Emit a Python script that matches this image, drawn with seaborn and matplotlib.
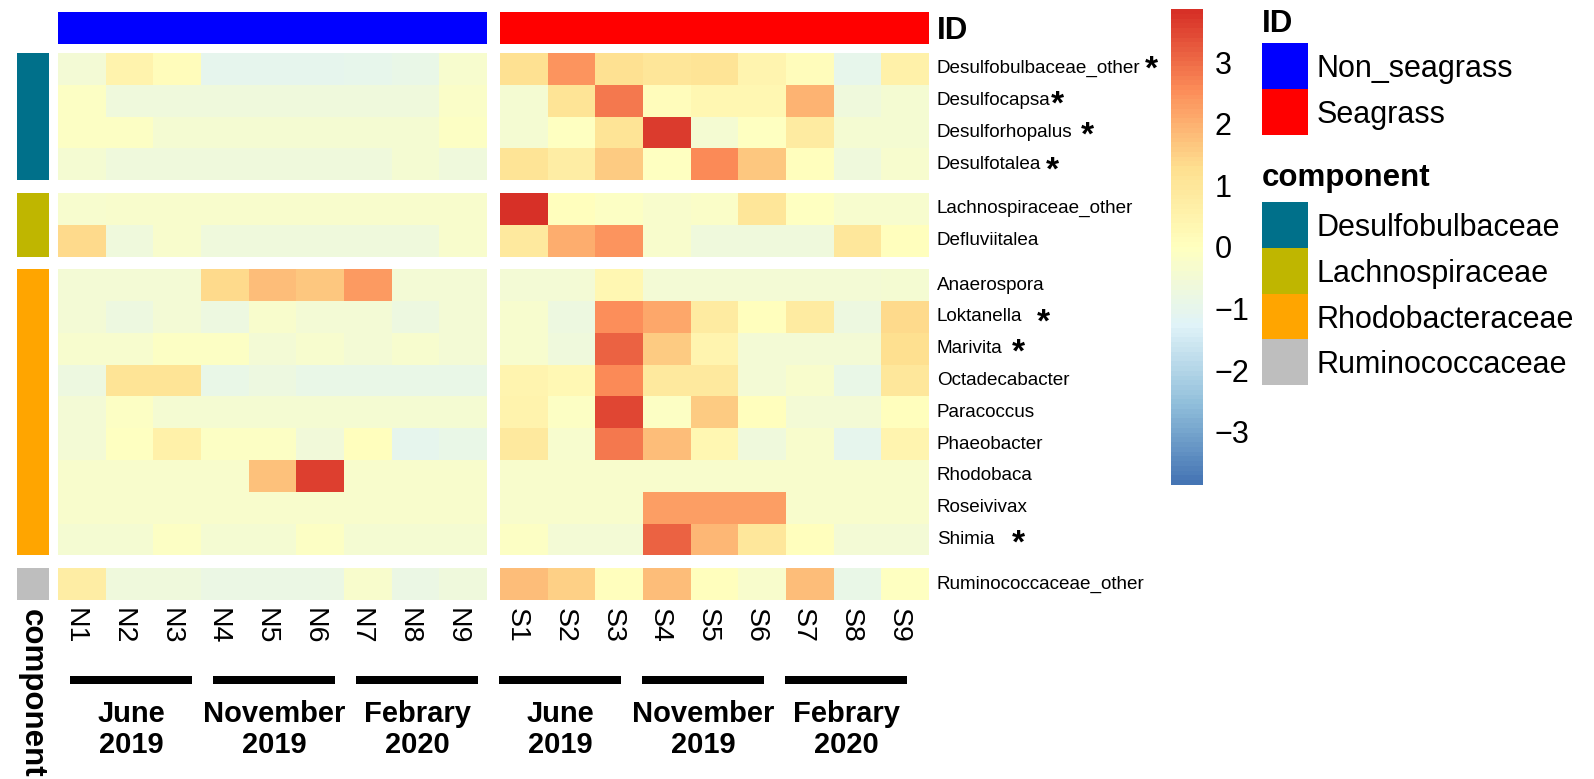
import numpy as np
import pandas as pd
import matplotlib
matplotlib.use("Agg")
import matplotlib.pyplot as plt
from matplotlib.colors import ListedColormap, LinearSegmentedColormap
from matplotlib.patches import Rectangle
import seaborn as sns

# ---------------------------------------------------------------- data
taxa = [
    "Desulfobulbaceae_other", "Desulfocapsa", "Desulforhopalus", "Desulfotalea",
    "Lachnospiraceae_other", "Defluviitalea",
    "Anaerospora", "Loktanella", "Marivita", "Octadecabacter", "Paracoccus",
    "Phaeobacter", "Rhodobaca", "Roseivivax", "Shimia",
    "Ruminococcaceae_other",
]
components = (["Desulfobulbaceae"] * 4 + ["Lachnospiraceae"] * 2
              + ["Rhodobacteraceae"] * 9 + ["Ruminococcaceae"])
significant = ["Desulfobulbaceae_other", "Desulfocapsa", "Desulforhopalus",
               "Desulfotalea", "Loktanella", "Marivita", "Shimia"]

nonseagrass_samples = ["N1", "N2", "N3", "N4", "N5", "N6", "N7", "N8", "N9"]
seagrass_samples = ["S1", "S2", "S3", "S4", "S5", "S6", "S7", "S8", "S9"]
id_groups = ["Non_seagrass", "Seagrass"]
component_levels = ["Desulfobulbaceae", "Lachnospiraceae", "Rhodobacteraceae", "Ruminococcaceae"]
period_months = ["June", "November", "Febrary"]
period_years = ["2019", "2019", "2020"]

# row-scaled abundance (z-scores), one list per taxon
nonseagrass = [
    [-0.50, 0.50, 0.10, -1.05, -1.05, -1.05, -1.00, -0.85, -0.35],
    [-0.10, -0.65, -0.65, -0.65, -0.65, -0.65, -0.65, -0.65, -0.20],
    [-0.10, -0.10, -0.45, -0.45, -0.45, -0.45, -0.45, -0.45, -0.10],
    [-0.45, -0.65, -0.65, -0.65, -0.65, -0.65, -0.65, -0.45, -0.65],
    [-0.35, -0.30, -0.30, -0.30, -0.30, -0.30, -0.30, -0.30, -0.30],
    [1.35, -0.65, -0.30, -0.65, -0.65, -0.65, -0.65, -0.65, -0.30],
    [-0.50, -0.50, -0.50, 1.35, 1.85, 1.65, 2.35, -0.50, -0.50],
    [-0.50, -0.70, -0.50, -0.70, -0.30, -0.50, -0.50, -0.70, -0.50],
    [-0.35, -0.35, -0.15, -0.15, -0.50, -0.35, -0.50, -0.35, -0.50],
    [-0.70, 1.15, 1.15, -0.90, -0.75, -0.85, -0.90, -0.85, -0.85],
    [-0.50, -0.10, -0.40, -0.40, -0.40, -0.40, -0.40, -0.40, -0.40],
    [-0.50, -0.05, 0.60, -0.15, -0.15, -0.55, 0.05, -1.05, -0.85],
    [-0.30, -0.30, -0.30, -0.30, 1.75, 3.60, -0.30, -0.30, -0.30],
    [-0.30, -0.30, -0.30, -0.30, -0.30, -0.30, -0.30, -0.30, -0.30],
    [-0.45, -0.45, -0.15, -0.45, -0.45, -0.15, -0.45, -0.45, -0.45],
    [0.75, -0.65, -0.65, -0.80, -0.80, -0.80, -0.30, -0.80, -0.65],
]
seagrass = [
    [1.20, 2.45, 1.20, 1.05, 1.10, 0.45, 0.10, -1.00, 0.60],
    [-0.45, 1.15, 2.85, 0.10, 0.35, 0.35, 2.00, -0.65, -0.45],
    [-0.45, -0.05, 1.15, 3.65, -0.45, -0.05, 0.80, -0.45, -0.45],
    [1.15, 0.70, 1.60, -0.05, 2.60, 1.65, 0.05, -0.65, -0.35],
    [3.80, 0.00, -0.15, -0.30, -0.20, 1.05, -0.05, -0.35, -0.35],
    [0.85, 2.05, 2.40, -0.30, -0.65, -0.65, -0.65, 1.00, 0.00],
    [-0.50, -0.50, 0.35, -0.50, -0.50, -0.50, -0.50, -0.50, -0.40],
    [-0.35, -0.70, 2.50, 2.10, 0.80, 0.05, 0.80, -0.70, 1.35],
    [-0.35, -0.65, 3.10, 1.60, 0.45, -0.50, -0.50, -0.50, 1.25],
    [0.45, 0.25, 2.60, 0.85, 0.85, -0.50, -0.25, -0.85, 1.00],
    [0.50, -0.10, 3.55, -0.10, 1.60, 0.05, -0.50, -0.50, 0.05],
    [0.85, -0.35, 2.85, 1.85, 0.35, -0.65, -0.25, -1.05, 0.45],
    [-0.30, -0.30, -0.30, -0.30, -0.30, -0.30, -0.30, -0.30, -0.30],
    [-0.30, -0.30, -0.30, 2.30, 2.30, 2.30, -0.30, -0.30, -0.30],
    [-0.10, -0.50, -0.50, 3.10, 1.90, 1.00, 0.05, -0.50, -0.50],
    [1.80, 1.50, 0.00, 1.80, 0.00, -0.30, 1.80, -0.85, -0.05],
]

# ---------------------------------------------------------------- styling
W, H = 1594, 779
sns.set_theme(style="white")
plt.rcParams["font.family"] = ["Liberation Sans", "DejaVu Sans"]
plt.rcParams["axes.unicode_minus"] = True
for key in ("text.color", "axes.labelcolor", "xtick.color", "ytick.color"):
    plt.rcParams[key] = "black"

id_colors = ["#0000FF", "#FF0000"]
component_colors = ["#00708A", "#BFB600", "#FFA500", "#BEBEBE"]
ramp = ["#4575B4", "#91BFDB", "#E0F3F8", "#FFFFBF", "#FEE090", "#FC8D59", "#D73027"]
cmap = ListedColormap(LinearSegmentedColormap.from_list("ramp", ramp)(np.linspace(0, 1, 100)))
VMIN, VMAX = -3.86, 3.86

# layout (pixels, origin top-left)
HM_X = [58.0, 500.0]          # left edge of each sample block
CELL_W = 47.67
HM_Y0 = 53.0
CELL_H = 31.8
ROW_GAP = 12.7
ANNO_X = (17.0, 49.0)
ID_Y = (12.0, 44.0)
LABEL_X = 937.0

# star placement next to significant taxa: (gap px, raise px)
star_offsets = {
    "Desulfobulbaceae_other": (4, 6), "Desulfocapsa": (0, 2.5),
    "Desulforhopalus": (8, 3.5), "Desulfotalea": (4, 0),
    "Loktanella": (14, 1), "Marivita": (9, 2), "Shimia": (17, 2),
}
STAR_SIZE = 24
STAR_DROP = 15.3

fig = plt.figure(figsize=(W / 100, H / 100), dpi=100)


def px_axes(x0, y0, x1, y1, **kw):
    return fig.add_axes([x0 / W, 1 - y1 / H, (x1 - x0) / W, (y1 - y0) / H], **kw)


ns_df = pd.DataFrame(nonseagrass, index=taxa, columns=nonseagrass_samples)
sg_df = pd.DataFrame(seagrass, index=taxa, columns=seagrass_samples)
blocks = [ns_df, sg_df]

# row groups follow the component annotation
groups = []
start = 0
for i in range(1, len(components) + 1):
    if i == len(components) or components[i] != components[start]:
        groups.append((start, i))
        start = i

row_centers = []
y = HM_Y0
mesh = None
for (r0, r1) in groups:
    y1 = y + (r1 - r0) * CELL_H
    for b, df in enumerate(blocks):
        ax = px_axes(HM_X[b], y, HM_X[b] + df.shape[1] * CELL_W, y1)
        sns.heatmap(df.iloc[r0:r1], ax=ax, cmap=cmap, vmin=VMIN, vmax=VMAX,
                    cbar=False, xticklabels=False, yticklabels=False)
        ax.set_xlabel("")
        ax.set_ylabel("")
        mesh = ax.collections[0]
    # component annotation strip
    cax = px_axes(ANNO_X[0], y, ANNO_X[1], y1)
    codes = pd.DataFrame({"component": [component_levels.index(c) for c in components[r0:r1]]})
    sns.heatmap(codes, ax=cax, cmap=ListedColormap(component_colors), vmin=-0.5, vmax=3.5,
                cbar=False, xticklabels=False, yticklabels=False)
    for r in range(r0, r1):
        row_centers.append(y + (r - r0 + 0.5) * CELL_H)
    y = y1 + ROW_GAP
heat_bottom = y - ROW_GAP

# ID annotation strip
for b, df in enumerate(blocks):
    ax = px_axes(HM_X[b], ID_Y[0], HM_X[b] + df.shape[1] * CELL_W, ID_Y[1])
    codes = pd.DataFrame([[b] * df.shape[1]], columns=df.columns)
    sns.heatmap(codes, ax=ax, cmap=ListedColormap(id_colors), vmin=-0.5, vmax=1.5,
                cbar=False, xticklabels=False, yticklabels=False)

# colour key
kax = px_axes(1171, 9, 1203, 485)
cb = fig.colorbar(mesh, cax=kax)
cb.outline.set_visible(False)
cb.set_ticks([-3, -2, -1, 0, 1, 2, 3])
cb.set_ticklabels(["\u22123", "\u22122", "\u22121", "0", "1", "2", "3"])
kax.tick_params(length=0, labelsize=22, pad=8.5, labelcolor="black")

# overlay in pixel coordinates for labels and legends
ov = fig.add_axes([0, 0, 1, 1], zorder=10)
ov.set_xlim(0, W)
ov.set_ylim(H, 0)
ov.axis("off")
ov.patch.set_alpha(0)

# taxon labels with significance stars
for name, yc in zip(taxa, row_centers):
    t = ov.text(LABEL_X, yc, name, fontsize=13.6, ha="left", va="center", color="black")
    if name in significant:
        dx, dy = star_offsets[name]
        ov.annotate("*", xy=(1, 0.5), xycoords=t, xytext=(dx, dy - STAR_DROP),
                    textcoords="offset pixels", fontsize=STAR_SIZE, fontweight="bold",
                    ha="left", va="baseline", color="black")

# sample labels
label_top = heat_bottom + 8
for b, df in enumerate(blocks):
    for j, s in enumerate(df.columns):
        cx = HM_X[b] + (j + 0.5) * CELL_W
        ov.text(cx - 7, label_top, s, rotation=270, fontsize=20.5, ha="center", va="top",
                color="black")

# sampling period bars and labels
bar_shift = [12.0, -1.0]
for b in range(2):
    for k, (m, yr) in enumerate(zip(period_months, period_years)):
        x0 = HM_X[b] + 3 * k * CELL_W + bar_shift[b]
        ov.add_patch(Rectangle((x0, 676), 122, 8, color="black", lw=0))
        xc = x0 + 61
        ov.text(xc, 722, m, fontsize=21, fontweight="bold", ha="center", va="baseline",
                color="black")
        ov.text(xc, 753, yr, fontsize=21, fontweight="bold", ha="center", va="baseline",
                color="black")

# annotation names
ov.text(32, 609, "component", rotation=270, fontsize=22.5, fontweight="bold",
        ha="center", va="top", color="black")
ov.text(LABEL_X, 39, "ID", fontsize=22.5, fontweight="bold", ha="left", va="baseline",
        color="black")

# legends
LEG_X = 1262
BOX_W, BOX_H = 46, 45.7
ov.text(LEG_X, 32, "ID", fontsize=22.5, fontweight="bold", ha="left", va="baseline",
        color="black")
for i, (lab, col) in enumerate(zip(id_groups, id_colors)):
    yb = 43.3 + i * BOX_H
    ov.add_patch(Rectangle((LEG_X, yb), BOX_W, BOX_H, color=col, lw=0))
    ov.text(LEG_X + 55, yb + BOX_H / 2 + 11, lab, fontsize=22, ha="left", va="baseline",
            color="black")

ov.text(LEG_X, 186, "component", fontsize=22.5, fontweight="bold", ha="left", va="baseline",
        color="black")
for i, (lab, col) in enumerate(zip(component_levels, component_colors)):
    yb = 202.3 + i * BOX_H
    ov.add_patch(Rectangle((LEG_X, yb), BOX_W, BOX_H, color=col, lw=0))
    ov.text(LEG_X + 55, yb + BOX_H / 2 + 11, lab, fontsize=22, ha="left", va="baseline",
            color="black")

fig.savefig("out.png", dpi=100, facecolor="white")
